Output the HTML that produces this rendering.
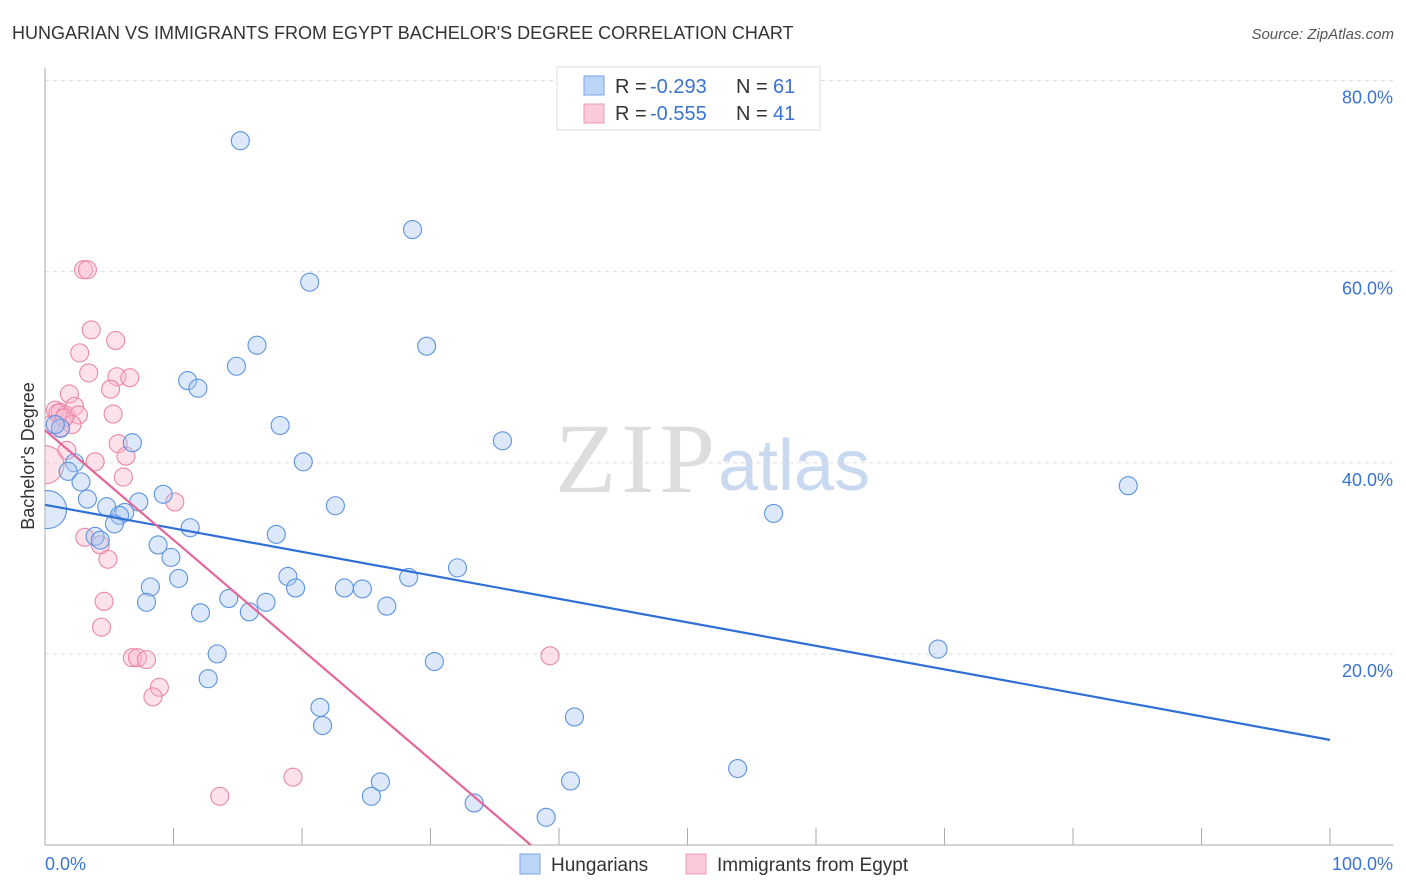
<!DOCTYPE html>
<html><head><meta charset="utf-8"><style>
body{margin:0;background:#fff;font-family:"Liberation Sans",sans-serif;}
svg{display:block}
</style></head><body>
<svg id="chart" width="1406" height="892">
<defs><clipPath id="plot"><rect x="45" y="60" width="1360" height="785"/></clipPath></defs>
<text x="12" y="39" font-size="18" fill="#333">HUNGARIAN VS IMMIGRANTS FROM EGYPT BACHELOR'S DEGREE CORRELATION CHART</text>
<text x="1394" y="39" font-size="15" fill="#555" font-style="italic" text-anchor="end">Source: ZipAtlas.com</text>
<text x="555" y="492" font-size="100" fill="#ddd" font-family="Liberation Serif" textLength="160">ZIP</text>
<text x="718" y="490" font-size="72" fill="#c9daf0">atlas</text>
<text transform="translate(34,456) rotate(-90)" font-size="18" fill="#333" text-anchor="middle">Bachelor's Degree</text>
<g id="grid"></g><g id="pts" clip-path="url(#plot)"></g><g id="lines"></g>
<g>
<rect x="557" y="67" width="263" height="63" fill="#fff" stroke="#ddd"/>
<rect x="584" y="76" width="20" height="19" fill="#bcd4f5" stroke="#7aa6e6"/>
<rect x="584" y="104" width="20" height="19" fill="#fbcad8" stroke="#ee9ab4"/>
<text x="615" y="93" font-size="20" fill="#333">R =</text>
<text x="650" y="93" font-size="20" fill="#3a73d0">-0.293</text>
<text x="736" y="93" font-size="20" fill="#333">N =</text>
<text x="773" y="93" font-size="20" fill="#3a73d0">61</text>
<text x="615" y="120" font-size="20" fill="#333">R =</text>
<text x="650" y="120" font-size="20" fill="#3a73d0">-0.555</text>
<text x="736" y="120" font-size="20" fill="#333">N =</text>
<text x="773" y="120" font-size="20" fill="#3a73d0">41</text>
</g>
<g>
<rect x="520" y="854" width="20" height="20" fill="#bcd4f5" stroke="#7aa6e6"/>
<text x="551" y="871" font-size="19" fill="#333">Hungarians</text>
<rect x="686" y="854" width="20" height="20" fill="#fbcad8" stroke="#ee9ab4"/>
<text x="717" y="871" font-size="19" fill="#333">Immigrants from Egypt</text>
</g>
<text x="45" y="870" font-size="18" fill="#3a73d0">0.0%</text>
<text x="1393" y="870" font-size="18" fill="#3a73d0" text-anchor="end">100.0%</text>
</svg>
<script>
const blueX=[15.2,28.6,20.6,16.5,29.7,14.9,11.1,11.9,18.3,35.6,6.8,1.2,2.3,1.8,20.1,2.8,3.3,9.2,7.3,4.8,6.2,5.8,5.4,22.6,11.3,3.9,4.3,18.0,8.8,9.8,8.2,10.4,7.9,18.9,19.5,23.3,24.7,28.3,32.1,14.3,17.2,12.1,15.9,26.6,13.4,30.3,12.7,21.4,21.6,41.2,26.1,25.4,40.9,33.4,39.0,53.9,69.5,56.7,84.3,0.2,0.8];
const blueY=[73.7,64.4,58.9,52.3,52.2,50.1,48.6,47.8,43.9,42.3,42.1,43.6,40.0,39.1,40.1,38.0,36.2,36.7,35.9,35.4,34.8,34.5,33.6,35.5,33.2,32.3,31.9,32.5,31.4,30.1,27.0,27.9,25.4,28.1,26.9,26.9,26.8,28.0,29.0,25.8,25.4,24.3,24.4,25.0,20.0,19.2,17.4,14.4,12.5,13.4,6.6,5.1,6.7,4.4,2.9,8.0,20.5,34.7,37.6,35.1,44.0];
const pinkX=[3.0,3.3,3.6,5.5,2.7,3.4,5.6,6.6,1.9,5.1,0.8,1.2,1.6,2.3,2.6,5.3,0.5,2.1,5.7,1.7,6.3,3.9,0.0,6.1,10.1,3.1,4.3,4.9,4.6,4.4,6.8,7.2,7.9,8.9,8.4,39.3,19.3,13.6,1.0,1.2,1.5];
const pinkY=[60.2,60.2,53.9,52.8,51.5,49.4,49.0,48.9,47.2,47.7,45.5,45.3,45.0,45.9,45.0,45.1,44.0,44.0,42.0,41.3,40.7,40.1,39.8,38.5,35.9,32.2,31.4,29.9,25.5,22.8,19.6,19.6,19.4,16.5,15.5,19.8,7.1,5.1,45.2,43.7,44.7];
const blueBig=[59];
const pinkBig=[22];
const blueTrend=[35.6,11.0];
const pinkTrend=[43.4,-1.148];
const yTicks=[20,40,60,80];
const xTicks=[0,10,20,30,40,50,60,70,80,90,100];
const NS="http://www.w3.org/2000/svg";
const sx=v=>45+v*12.85, sy=v=>845-v*9.556;
function mk(t,a,p){const e=document.createElementNS(NS,t);for(const k in a)e.setAttribute(k,a[k]);p.appendChild(e);return e;}
const grid=document.getElementById('grid');
yTicks.forEach(t=>{
 const l=mk('line',{x1:45,x2:1393,y1:sy(t),y2:sy(t),stroke:'#ddd','stroke-dasharray':'4,4'},grid);
 
 
 const tx=mk('text',{x:1393,y:sy(t)+23,'font-size':18,fill:'#3a73d0','text-anchor':'end'},grid);
 tx.textContent=t.toFixed(1)+'%';
 
 
});
mk('line',{x1:45,x2:45,y1:68,y2:845,stroke:'#aaa'},grid);
mk('line',{x1:45,x2:1393,y1:845,y2:845,stroke:'#aaa'},grid);
xTicks.forEach(t=>{const l=mk('line',{x1:sx(t),x2:sx(t),y1:828,y2:845,stroke:'#aaa'},grid);
 
 });
const pts=document.getElementById('pts');
function draw(X,Y,big,fill,stroke,name){X.forEach((x,i)=>{
 const c=mk('circle',{cx:sx(x),cy:sy(Y[i]),r:big.includes(i)?19:9,fill:fill,'fill-opacity':0.4,stroke:stroke,'stroke-width':1.1},pts);
 
 
});}
draw(pinkX,pinkY,pinkBig,'#f9b6ca','#ec86a6','egypt-point');
draw(blueX,blueY,blueBig,'#a9c8f2','#5b93e0','hungarian-point');
const lines=document.getElementById('lines');
const bl=mk('line',{x1:sx(0),y1:sy(blueTrend[0]),x2:sx(100),y2:sy(blueTrend[1]),stroke:'#2f6fd6','stroke-width':2.2},lines);


const xe=-pinkTrend[0]/pinkTrend[1];
const pl=mk('line',{x1:sx(0),y1:sy(pinkTrend[0]),x2:sx(xe),y2:sy(0),stroke:'#e3679a','stroke-width':2.2},lines);


</script>
</body></html>
